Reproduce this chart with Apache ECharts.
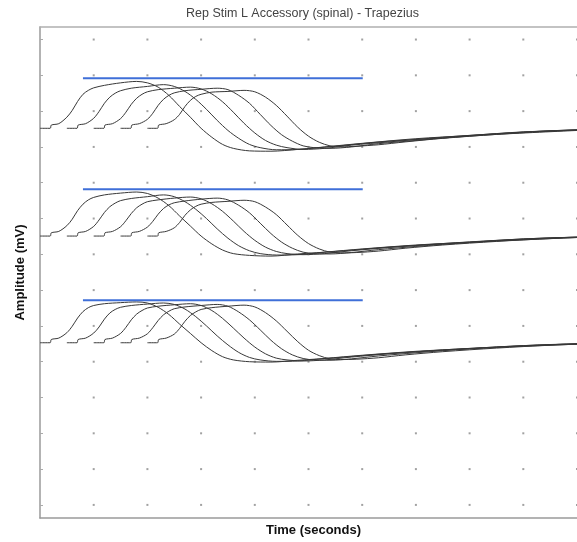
<!DOCTYPE html>
<html><head><meta charset="utf-8">
<script src="https://cdn.jsdelivr.net/npm/echarts@6/dist/echarts.min.js"></script>
<style>html,body{margin:0;padding:0;background:#fff}#c{width:577px;height:542px}</style>
</head><body><div id="c"></div>
<script>
// relative time after each stimulus (grid units)
const relTime = [0, 0.19, 0.21, 0.35, 0.5, 0.6, 0.7, 0.8, 0.9, 1.0, 1.2, 1.5, 1.8, 2.0, 2.2, 2.4, 2.6, 2.8, 3.0, 3.2, 3.4, 3.6, 3.9, 4.3, 4.8, 5.5, 6.5, 7.5, 8.5, 10];
const stimOnset = [0, 0.5, 1, 1.5, 2];
const baselines = [10.52, 7.51, 4.53];
const blueLevels = [11.92, 8.82, 5.72];
const blueSpan = [0.80, 6.01];

const g1Amp = [
  [0,0,0.09,0.13,0.31,0.50,0.75,0.95,1.06,1.13,1.20,1.27,1.31,1.27,1.15,0.92,0.61,0.31,0,-0.25,-0.45,-0.56,-0.63,-0.64,-0.59,-0.50,-0.36,-0.27,-0.17,-0.06],
  [0,0,0.09,0.13,0.28,0.47,0.70,0.87,0.98,1.05,1.12,1.17,1.22,1.17,1.03,0.81,0.53,0.22,-0.06,-0.28,-0.45,-0.54,-0.60,-0.59,-0.52,-0.42,-0.29,-0.20,-0.10,-0.03],
  [0,0,0.09,0.13,0.27,0.45,0.67,0.84,0.95,1.02,1.08,1.12,1.15,1.10,0.96,0.74,0.45,0.14,-0.13,-0.34,-0.47,-0.54,-0.59,-0.56,-0.47,-0.38,-0.25,-0.15,-0.07,-0.01],
  [0,0,0.09,0.13,0.25,0.42,0.64,0.81,0.92,0.99,1.05,1.09,1.12,1.08,0.92,0.70,0.39,0.08,-0.18,-0.36,-0.49,-0.54,-0.56,-0.52,-0.43,-0.34,-0.21,-0.11,-0.04,0],
  [0,0,0.09,0.13,0.24,0.39,0.61,0.78,0.89,0.95,1.01,1.03,1.06,1.02,0.87,0.64,0.34,0.03,-0.22,-0.39,-0.49,-0.52,-0.50,-0.46,-0.38,-0.28,-0.17,-0.08,-0.03,0]
];
const g2Amp = [
  [0,0,0.09,0.13,0.29,0.47,0.71,0.89,1.01,1.08,1.15,1.20,1.23,1.19,1.06,0.85,0.56,0.28,0,-0.22,-0.39,-0.49,-0.54,-0.56,-0.50,-0.43,-0.31,-0.22,-0.14,-0.04],
  [0,0,0.09,0.13,0.27,0.45,0.66,0.82,0.92,0.99,1.05,1.10,1.15,1.10,0.96,0.75,0.49,0.20,-0.06,-0.27,-0.41,-0.49,-0.53,-0.52,-0.45,-0.36,-0.25,-0.17,-0.08,-0.01],
  [0,0,0.09,0.13,0.26,0.43,0.63,0.79,0.89,0.96,1.01,1.06,1.09,1.04,0.90,0.69,0.42,0.13,-0.12,-0.31,-0.43,-0.49,-0.52,-0.49,-0.41,-0.32,-0.21,-0.12,-0.05,0],
  [0,0,0.09,0.13,0.25,0.41,0.61,0.77,0.87,0.93,0.98,1.03,1.06,1.01,0.86,0.65,0.36,0.07,-0.17,-0.34,-0.45,-0.49,-0.50,-0.46,-0.38,-0.29,-0.18,-0.09,-0.03,0],
  [0,0,0.09,0.13,0.23,0.38,0.58,0.73,0.83,0.89,0.94,0.97,1.00,0.96,0.81,0.60,0.31,0.02,-0.21,-0.36,-0.45,-0.47,-0.46,-0.42,-0.34,-0.25,-0.15,-0.07,-0.02,0]
];
const g3Amp = [
  [0,0,0.09,0.13,0.28,0.46,0.69,0.87,0.98,1.04,1.09,1.12,1.14,1.11,0.99,0.79,0.52,0.26,0,-0.22,-0.39,-0.48,-0.53,-0.54,-0.49,-0.42,-0.30,-0.21,-0.13,-0.04],
  [0,0,0.09,0.13,0.27,0.44,0.66,0.83,0.93,0.99,1.04,1.08,1.11,1.07,0.94,0.73,0.47,0.19,-0.06,-0.27,-0.41,-0.48,-0.52,-0.51,-0.44,-0.35,-0.24,-0.16,-0.08,-0.01],
  [0,0,0.09,0.13,0.26,0.43,0.64,0.80,0.90,0.97,1.02,1.06,1.09,1.04,0.90,0.68,0.41,0.13,-0.12,-0.31,-0.43,-0.48,-0.51,-0.48,-0.40,-0.31,-0.20,-0.12,-0.05,0],
  [0,0,0.09,0.13,0.25,0.42,0.62,0.78,0.88,0.95,1.00,1.04,1.07,1.02,0.86,0.64,0.36,0.07,-0.17,-0.34,-0.44,-0.48,-0.49,-0.45,-0.37,-0.28,-0.17,-0.09,-0.03,0],
  [0,0,0.09,0.13,0.24,0.40,0.60,0.76,0.86,0.93,0.98,1.02,1.05,1.00,0.84,0.61,0.32,0.03,-0.21,-0.36,-0.45,-0.47,-0.46,-0.42,-0.34,-0.25,-0.15,-0.07,-0.02,0]
];
const groupAmps = [g1Amp, g2Amp, g3Amp];

const xGridTicks = [1, 2, 3, 4, 5, 6, 7, 8, 9, 10];
const yGridTicks = [0, 1, 2, 3, 4, 5, 6, 7, 8, 9, 10, 11, 12, 13];

const titleText = 'Rep Stim L Accessory (spinal) - Trapezius';
const xTitle = 'Time (seconds)';
const yTitle = 'Amplitude (mV)';

const series = [];
const dots = [];
xGridTicks.forEach(x => yGridTicks.forEach(y => dots.push([x, y])));
series.push({
  type: 'scatter', data: dots, symbol: 'rect', symbolSize: 2, silent: true,
  itemStyle: { color: '#8a8a8a' }, z: 1
});
groupAmps.forEach((amps, g) => {
  amps.forEach((amp, i) => {
    series.push({
      type: 'line', showSymbol: false, smooth: 0.3, silent: true,
      data: relTime.map((t, j) => [t + stimOnset[i], baselines[g] + amp[j]]),
      lineStyle: { color: '#383838', width: 1 }, z: 3
    });
  });
  series.push({
    type: 'line', showSymbol: false, silent: true,
    data: [[blueSpan[0], blueLevels[g]], [blueSpan[1], blueLevels[g]]],
    lineStyle: { color: '#3f6fd8', width: 2 }, z: 4
  });
});

const chart = echarts.init(document.getElementById('c'), null, { renderer: 'canvas' });
chart.setOption({
  animation: false,
  backgroundColor: '#fff',
  grid: { left: 40, right: 0, top: 27, bottom: 24 },
  graphic: [{
    type: 'text', left: 186, top: 7,
    style: { text: titleText, fill: '#444', font: '12.5px "Liberation Sans", Arial, sans-serif' }
  }],
  xAxis: [{
    type: 'value', min: 0, max: 10, interval: 1,
    name: xTitle, nameLocation: 'middle', nameGap: 6,
    nameTextStyle: { fontFamily: 'Liberation Sans', fontWeight: 'bold', fontSize: 13, color: '#111', padding: [0, 0, 0, 10] },
    axisLine: { onZero: false, lineStyle: { color: '#9a9a9a', width: 1.5 } },
    axisTick: { show: false }, axisLabel: { show: false }, splitLine: { show: false }
  }, {
    type: 'value', position: 'top', min: 0, max: 10, interval: 1,
    axisLine: { show: true, onZero: false, lineStyle: { color: '#b0b0b0', width: 1.5 } },
    axisTick: { show: false }, axisLabel: { show: false }, splitLine: { show: false }
  }],
  yAxis: {
    type: 'value', min: -0.366, max: 13.35,
    name: yTitle, nameLocation: 'middle', nameGap: 13,
    nameTextStyle: { fontFamily: 'Liberation Sans', fontWeight: 'bold', fontSize: 13, color: '#111', padding: [0, 0, 0, 0] },
    axisLine: { show: true, onZero: false, lineStyle: { color: '#9a9a9a', width: 1.5 } },
    axisTick: { show: true, inside: true, length: 3, customValues: yGridTicks, lineStyle: { color: '#aaa' } },
    axisLabel: { show: false }, splitLine: { show: false }
  },
  series: series
});
</script></body></html>
